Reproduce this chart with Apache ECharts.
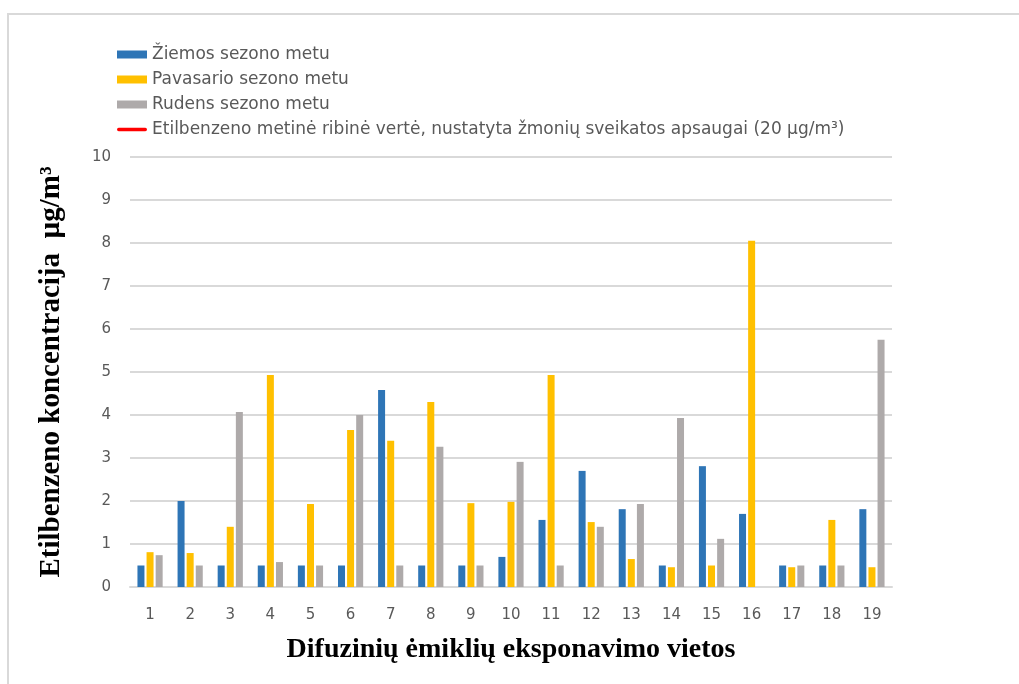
<!DOCTYPE html>
<html>
<head>
<meta charset="utf-8">
<style>
  html, body { margin: 0; padding: 0; background: #ffffff; }
  #chart { width: 1019px; height: 684px; }
</style>
<script src="https://cdn.jsdelivr.net/npm/echarts@6/dist/echarts.min.js"></script>
</head>
<body>
<div id="chart"></div>
<script>
// Sampling sites
const sites = ['1','2','3','4','5','6','7','8','9','10','11','12','13','14','15','16','17','18','19'];

// Ethylbenzene concentration, µg/m³, per season
const winter = [0.5, 2.0, 0.5, 0.5, 0.5, 0.5, 4.58, 0.5, 0.5, 0.7, 1.56, 2.7, 1.81, 0.5, 2.81, 1.7, 0.5, 0.5, 1.81];
const spring = [0.81, 0.79, 1.4, 4.93, 1.93, 3.65, 3.4, 4.3, 1.95, 1.98, 4.93, 1.51, 0.65, 0.46, 0.5, 8.05, 0.46, 1.56, 0.46];
const autumn = [0.74, 0.5, 4.07, 0.58, 0.5, 4.0, 0.5, 3.26, 0.5, 2.91, 0.5, 1.4, 1.93, 3.93, 1.12, 0, 0.5, 0.5, 5.75];

// Annual limit value for human health protection (20 µg/m³)
const limitValue = sites.map(() => 20);

const seriesNames = [
  'Žiemos sezono metu',
  'Pavasario sezono metu',
  'Rudens sezono metu',
  'Etilbenzeno metinė ribinė vertė, nustatyta žmonių sveikatos apsaugai (20 µg/m³)'
];

const textFont = "'DejaVu Sans', sans-serif";
const titleFont = "'Liberation Serif', 'DejaVu Serif', serif";

// Rounded stroke used as the legend marker of the limit line;
// the two leading moves keep the icon box at the full legend item height
const limitIcon = 'path://M0,0 M0,9 M2.5,2 L41.5,2 A2.5,2.5 0 0 1 41.5,7 L2.5,7 A2.5,2.5 0 0 1 2.5,2 Z';

const chart = echarts.init(document.getElementById('chart'), null, { renderer: 'canvas' });

const barCommon = {
  type: 'bar',
  barWidth: 7,
  barGap: '30%'
};

chart.setOption({
  animation: false,
  backgroundColor: '#ffffff',
  graphic: [
    {
      type: 'rect',
      shape: { x: 8, y: 14, width: 1100, height: 800 },
      style: { fill: 'none', stroke: '#D9D9D9', lineWidth: 2 },
      silent: true
    }
  ],
  legend: {
    orient: 'vertical',
    left: 112,
    top: 41,
    itemWidth: 30,
    itemHeight: 8,
    itemGap: 8,
    icon: 'rect',
    textStyle: { fontFamily: textFont, fontSize: 17, color: '#595959' },
    data: [
      seriesNames[0],
      seriesNames[1],
      seriesNames[2],
      { name: seriesNames[3], icon: limitIcon, itemStyle: { color: '#FF0000' } }
    ]
  },
  grid: {
    left: 130,
    right: 127,
    top: 157,
    bottom: 97,
    containLabel: false
  },
  xAxis: {
    type: 'category',
    data: sites,
    name: 'Difuzinių ėmiklių eksponavimo vietos',
    nameLocation: 'middle',
    nameGap: 49,
    nameTextStyle: { fontFamily: titleFont, fontWeight: 'bold', fontSize: 28, color: '#000000' },
    axisLine: { show: true, lineStyle: { color: '#D9D9D9', width: 2 } },
    axisTick: { show: false },
    axisLabel: { fontFamily: textFont, fontSize: 15, color: '#595959', margin: 21 }
  },
  yAxis: {
    type: 'value',
    min: 0,
    max: 10,
    interval: 1,
    name: 'Etilbenzeno koncentracija  µg/m³',
    nameLocation: 'middle',
    nameGap: 64,
    nameTextStyle: { fontFamily: titleFont, fontWeight: 'bold', fontSize: 29, color: '#000000' },
    axisLine: { show: false },
    axisTick: { show: false },
    axisLabel: { fontFamily: textFont, fontSize: 15, color: '#595959', margin: 19 },
    splitLine: { show: true, lineStyle: { color: '#D9D9D9', width: 2 } }
  },
  series: [
    Object.assign({ name: seriesNames[0], data: winter, itemStyle: { color: '#2E75B6' } }, barCommon),
    Object.assign({ name: seriesNames[1], data: spring, itemStyle: { color: '#FFC000' } }, barCommon),
    Object.assign({ name: seriesNames[2], data: autumn, itemStyle: { color: '#AEAAAA' } }, barCommon),
    {
      name: seriesNames[3],
      type: 'line',
      data: limitValue,
      symbol: 'none',
      clip: true,
      itemStyle: { color: '#FF0000' },
      lineStyle: { color: '#FF0000', width: 4, cap: 'round' }
    }
  ]
});
</script>
</body>
</html>
